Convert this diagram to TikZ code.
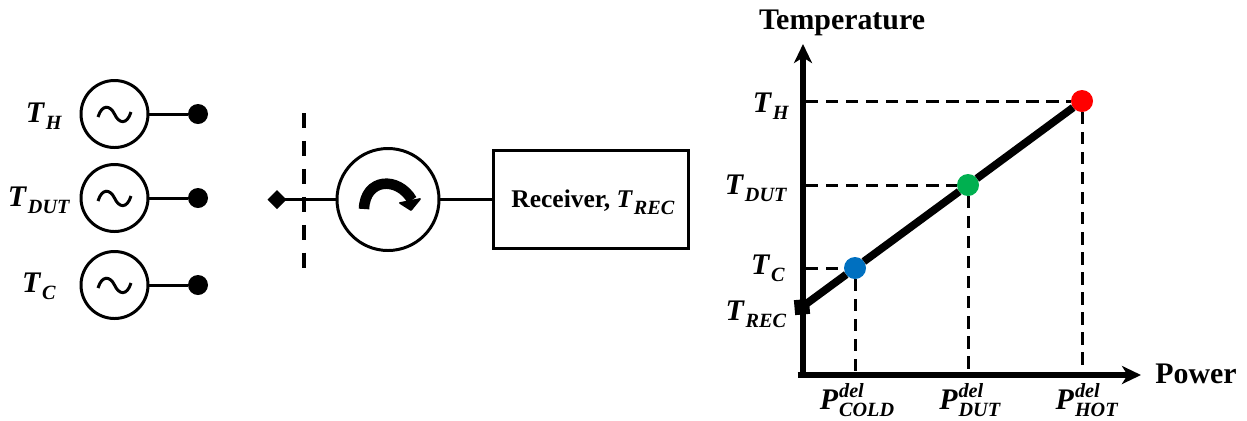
\documentclass[tikz,border=0pt]{standalone}
\usepackage{fontspec}
\setmainfont{Liberation Serif}
\usetikzlibrary{arrows.meta,shapes.geometric}
\definecolor{hotred}{RGB}{255,0,0}
\definecolor{dutgreen}{RGB}{0,176,80}
\definecolor{coldblue}{RGB}{0,112,192}
% subscript and sub+superscript labels
\newcommand{\lblsub}[2]{\textit{#1}\kern0.5pt\raisebox{-4pt}{\fontsize{11.5}{12}\selectfont\textit{#2}}}
\newcommand{\lblboth}[3]{\textit{#1}\kern0.5pt\rlap{\raisebox{7pt}{\fontsize{11.5}{12}\selectfont\textit{#2}}}\raisebox{-4pt}{\fontsize{11.5}{12}\selectfont\textit{#3}}}
\begin{document}
\begin{tikzpicture}[x=0.2mm,y=-0.2mm,line cap=butt,outer sep=0pt,
    txt node/.style={font=\fontsize{17}{20}\selectfont\bfseries,inner sep=0pt},
    src node/.style={circle,draw,line width=1.7pt,minimum size=13.4mm,inner sep=0pt},
    circ node/.style={circle,draw,line width=1.7pt,minimum size=20.4mm,inner sep=0pt},
    rec node/.style={rectangle,draw,line width=1.9pt,minimum width=39mm,minimum height=19.6mm,inner sep=0pt},
    term node/.style={circle,fill,minimum size=4mm,inner sep=0pt},
    pt node/.style={circle,fill,minimum size=4.4mm,inner sep=0pt},
    wire/.style={line width=1.7pt},
    axis/.style={line width=3.4pt,-{Stealth[length=3.8mm,width=3.6mm,inset=1.1mm]}},
    guide/.style={line width=1.7pt,dash pattern=on 7pt off 4.4pt}]
    \useasboundingbox (0,0) rectangle (1247,420);

    % generators
    \node[src node] at (114.5,114) (srcH) {};
    \node[src node] at (114.5,198) (srcD) {};
    \node[src node] at (114.5,285) (srcC) {};
    \node[term node] at (198,114) (termH) {};
    \node[term node] at (198,198) (termD) {};
    \node[term node] at (198,285) (termC) {};
    \node[txt node] at (44,116) (lblH) {\lblsub{T}{H}};
    \node[txt node] at (39,200) (lblD) {\lblsub{T}{DUT}};
    \node[txt node] at (39,286) (lblC) {\lblsub{T}{C}};
    \draw[wire] (98,117) .. controls (102,104) and (110,105) .. (114.5,114) .. controls (119,124) and (127,125) .. (131,112);
    \draw[wire] (98,201) .. controls (102,188) and (110,189) .. (114.5,198) .. controls (119,208) and (127,209) .. (131,196);
    \draw[wire] (98,288) .. controls (102,275) and (110,276) .. (114.5,285) .. controls (119,295) and (127,296) .. (131,283);

    % port and receiver
    \node[diamond,fill,minimum size=3.8mm,inner sep=0pt] at (277,199.5) (port) {};
    \node[circ node] at (388,199.5) (circ) {};
    \node[rec node] at (591,199.5) (rec) {};
    \node[txt node,font=\fontsize{14.5}{18}\selectfont\bfseries] at (593,202) (lblRec) {Receiver, \lblsub{T}{REC}};
    \coordinate (refT) at (304,113);
    \coordinate (refB) at (304,268);
    \draw[line width=2.2pt,dash pattern=on 8.5pt off 7.4pt] (refT) -- (refB);
    \draw[line width=6pt,line join=round] (364,209) .. controls (365,178) and (398,176) .. (412,200);
    \fill[draw,line width=1pt,line join=round] (400,203) -- (420,199) -- (411,210) -- cycle;

    \path[wire]
        (srcH) edge (termH)
        (srcD) edge (termD)
        (srcC) edge (termC)
        (port.center) edge (circ)
        (circ) edge (rec);

    % plot
    \coordinate (org) at (803,375);
    \coordinate (yend) at (803,44);
    \coordinate (xend) at (1141,375);
    \coordinate (axH) at (806,101);
    \coordinate (axD) at (806,185);
    \coordinate (axC) at (806,268);
    \coordinate (axPc) at (855,375);
    \coordinate (axPd) at (968,375);
    \coordinate (axPh) at (1082,375);
    \node[rectangle,fill,rotate=5,minimum size=3mm,inner sep=0pt] at (802,307) (rec0) {};
    \node[pt node,fill=hotred] at (1082,101) (ptH) {};
    \node[pt node,fill=dutgreen] at (968,185) (ptD) {};
    \node[pt node,fill=coldblue] at (855,268) (ptC) {};

    \path[guide]
        (axH) edge (ptH)
        (axD) edge (ptD)
        (axC) edge (ptC)
        (ptH) edge (axPh)
        (ptD) edge (axPd)
        (ptC) edge (axPc);
    \draw[axis] (org) -- (yend);
    \draw[axis] ([xshift=-3]org) -- (xend);
    \draw[line width=4.4pt] (rec0.center) -- (ptC);
    \draw[line width=4.4pt] (ptC) -- (ptD);
    \draw[line width=4.4pt] (ptD) -- (ptH);

    \node[txt node] at (842,23) (lblTemp) {Temperature};
    \node[txt node] at (1196,374) (lblPow) {Power};
    \node[txt node] at (771,106) (plH) {\lblsub{T}{H}};
    \node[txt node] at (756,188) (plD) {\lblsub{T}{DUT}};
    \node[txt node] at (768,268) (plC) {\lblsub{T}{C}};
    \node[txt node] at (756,314) (plR) {\lblsub{T}{REC}};
    \node[txt node] at (857,400) (pc) {\lblboth{P}{del}{COLD}};
    \node[txt node] at (970,400) (pd) {\lblboth{P}{del}{DUT}};
    \node[txt node] at (1087,400) (ph) {\lblboth{P}{del}{HOT}};
\end{tikzpicture}
\end{document}
